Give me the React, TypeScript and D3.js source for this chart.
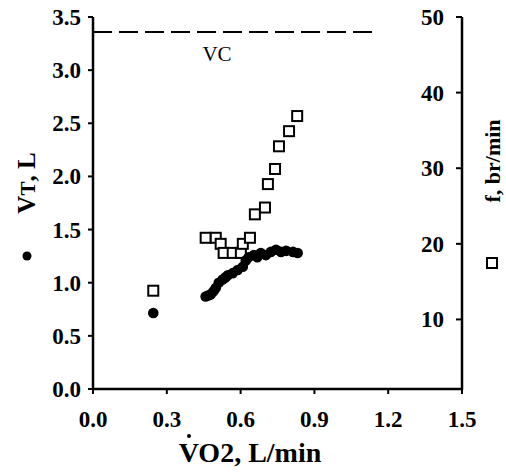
import React from "react";
import * as d3 from "d3";

const vtX = [0.245, 0.458, 0.468, 0.478, 0.49, 0.499, 0.511, 0.527, 0.538, 0.548, 0.568, 0.588, 0.609, 0.621, 0.633, 0.654, 0.668, 0.682, 0.703, 0.723, 0.744, 0.764, 0.785, 0.813, 0.832];
const vtY = [0.715, 0.87, 0.88, 0.89, 0.92, 0.95, 1.0, 1.03, 1.05, 1.07, 1.09, 1.12, 1.15, 1.21, 1.24, 1.26, 1.24, 1.28, 1.26, 1.29, 1.31, 1.29, 1.3, 1.29, 1.28];

const fX = [0.245, 0.458, 0.499, 0.519, 0.531, 0.568, 0.601, 0.609, 0.638, 0.658, 0.699, 0.711, 0.74, 0.756, 0.797, 0.83];
const fY = [13.8, 20.8, 20.8, 20.0, 18.8, 18.8, 18.8, 20.0, 20.8, 23.9, 24.8, 27.9, 29.9, 32.9, 34.9, 36.9];

const xTicks = [0, 0.3, 0.6, 0.9, 1.2, 1.5];
const yLTicks = [0, 0.5, 1.0, 1.5, 2.0, 2.5, 3.0, 3.5];
const yRTicks = [10, 20, 30, 40, 50];
const vcValue = 3.36;
const vcEnd = 1.16;

const FONT = "'Liberation Serif', serif";

function T({ x, y, anchor = "middle", size = 23, weight = "bold", children }: any) {
  return (
    <text x={x} y={y} textAnchor={anchor} fontFamily={FONT} fontWeight={weight} fontSize={size} fill="#000">
      {children}
    </text>
  );
}

export default function App() {
  const x = d3.scaleLinear().domain([0, 1.5]).range([93, 462]);
  const yL = d3.scaleLinear().domain([0, 3.5]).range([389, 17]);
  const yR = d3.scaleLinear().domain([0.8, 50]).range([389, 17]);
  const sq = 10;

  return (
    <svg width={506} height={473} style={{ position: "absolute", left: 0, top: 0, background: "#fff" }}>
      <rect width={506} height={473} fill="#fff" />
      {/* VC dashed line */}
      <line x1={x(0)} x2={x(vcEnd)} y1={yL(vcValue)} y2={yL(vcValue)} stroke="#000" strokeWidth={2} strokeDasharray="19 7" />
      <T x={217} y={61} size={21} weight="normal">VC</T>

      {/* axes */}
      <line x1={x(0)} x2={x(0)} y1={yL(3.5)} y2={yL(0) + 1} stroke="#000" strokeWidth={2.5} />
      <line x1={x(1.5)} x2={x(1.5)} y1={yR(50)} y2={yL(0) + 1} stroke="#000" strokeWidth={2.5} />
      <line x1={x(0) - 1} x2={x(1.5) + 1} y1={yL(0)} y2={yL(0)} stroke="#000" strokeWidth={2.5} />

      {yLTicks.map((t) => (
        <g key={"l" + t}>
          <line x1={x(0) - 5} x2={x(0)} y1={yL(t)} y2={yL(t)} stroke="#000" strokeWidth={2} />
          <T x={81} y={yL(t) + 8} anchor="end">{t.toFixed(1)}</T>
        </g>
      ))}
      {xTicks.map((t) => (
        <g key={"x" + t}>
          <line x1={x(t)} x2={x(t)} y1={yL(0)} y2={yL(0) + 5} stroke="#000" strokeWidth={2} />
          <T x={x(t)} y={427}>{t.toFixed(1)}</T>
        </g>
      ))}
      {yRTicks.map((t) => (
        <g key={"r" + t}>
          <line x1={x(1.5) - 6} x2={x(1.5)} y1={yR(t)} y2={yR(t)} stroke="#000" strokeWidth={2} />
          <T x={444} y={yR(t) + 8} anchor="end">{String(t)}</T>
        </g>
      ))}

      {/* axis titles */}
      <text
        transform={`translate(35,183) rotate(-90)`}
        textAnchor="middle"
        fontFamily={FONT}
        fontWeight="bold"
        fontSize={25}
      >
        V<tspan fontSize={21}>T</tspan>, L
      </text>
      <circle cx={27} cy={256} r={4.5} fill="#000" />

      <text
        transform={`translate(500,161) rotate(-90)`}
        textAnchor="middle"
        fontFamily={FONT}
        fontWeight="bold"
        fontSize={22}
      >
        f, br/min
      </text>
      <rect x={492 - 5} y={263 - 5} width={10} height={10} fill="#fff" stroke="#000" strokeWidth={2} />

      <T x={250} y={462} size={28}>VO2, L/min</T>
      <circle cx={189} cy={436} r={2} fill="#000" />

      {/* data: f squares */}
      {fX.map((v, i) => (
        <rect
          key={"f" + i}
          x={x(v) - sq / 2}
          y={yR(fY[i]) - sq / 2}
          width={sq}
          height={sq}
          fill="#fff"
          stroke="#000"
          strokeWidth={2}
        />
      ))}
      {/* data: VT circles */}
      {vtX.map((v, i) => (
        <circle key={"v" + i} cx={x(v)} cy={yL(vtY[i])} r={5.3} fill="#000" />
      ))}
    </svg>
  );
}
